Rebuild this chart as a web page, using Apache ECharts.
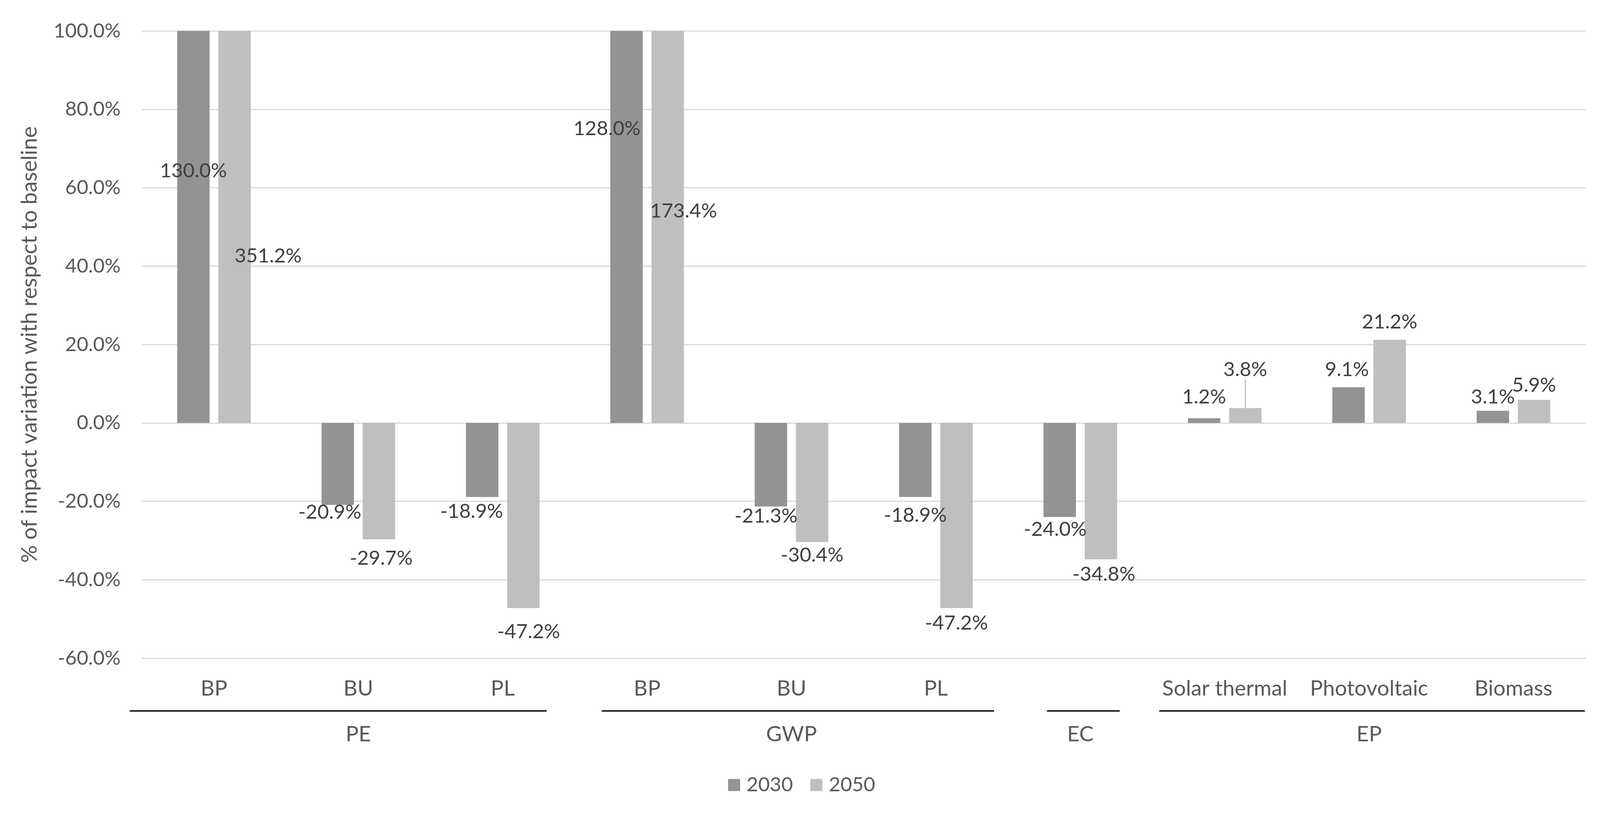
<!DOCTYPE html>
<html>
<head>
<meta charset="utf-8">
<script src="https://cdn.jsdelivr.net/npm/echarts@6/dist/echarts.min.js"></script>
<style>
html,body{margin:0;padding:0;background:#fff;overflow:hidden;}
#chart{width:100vw;height:100vh;}
</style>
</head>
<body>
<div id="chart"></div>
<script>
// ---- data ----
const categories = ['BP', 'BU', 'PL', 'BP', 'BU', 'PL', '', 'Solar thermal', 'Photovoltaic', 'Biomass'];
const groupLabels = ['', 'PE', '', '', 'GWP', '', 'EC', '', 'EP', ''];
const seriesNames = ['2030', '2050'];
const values2030 = [130.0, -20.9, -18.9, 128.0, -21.3, -18.9, -24.0, 1.2, 9.1, 3.1];
const values2050 = [351.2, -29.7, -47.2, 173.4, -30.4, -47.2, -34.8, 3.8, 21.2, 5.9];
const yMin = -60, yMax = 100, yInterval = 20;

// ---- layout (label placement: [dx from bar centre, distance from bar end / from grid top if clipped]) ----
const labelPlace = [
  [[0, 371], [-21, 20], [-28, 38], [-52, 259], [-13, 26], [0, 49], [-12, 33], [0, 56], [-4, 47], [0, 37]],
  [[89, 597], [6, 50], [14, 63], [42, 478], [0, 35], [0, 40], [8, 40], [0, 102], [0, 47], [0, 39]]
];
const leaderLine = [[], [7]];
const groupSpans = [[-0.084, 2.804], [3.185, 5.903], [6.269, 6.773], [7.047, 9.995]];

const el = document.getElementById('chart');
const W = el.clientWidth || window.innerWidth;
const H = el.clientHeight || window.innerHeight;
const s = Math.min(W / 4244, H / 2120);
const P = v => v * s;

const FONT = 'Lato';
const FS_NUM = P(53);
const FS_TXT = P(57);
const colors = ['#939393', '#bfbfbf'];

const chart = echarts.init(el);
const allValues = [values2030, values2050];

function makeSeries(si) {
  return {
    name: seriesNames[si],
    type: 'bar',
    xAxisIndex: 0,
    yAxisIndex: 0,
    barWidth: P(86),
    barGap: '27%',
    itemStyle: { color: colors[si] },
    data: allValues[si].map((v, i) => leaderLine[si].indexOf(i) >= 0
      ? { value: v, labelLine: { show: true, lineStyle: { color: '#a6a6a6', width: P(2) } } }
      : v),
    label: {
      show: true,
      position: 'inside',
      fontFamily: FONT,
      fontSize: FS_NUM,
      color: '#404040',
      formatter: p => p.value.toFixed(1) + '%'
    },
    labelLine: { show: false },
    labelLayout: function (params) {
      const idx = params.dataIndex;
      const v = allValues[si][idx];
      const pl = labelPlace[si][idx];
      const r = params.rect;
      const cx = r.x + r.width / 2 + P(pl[0]);
      let cy;
      if (v > yMax) cy = r.y + P(pl[1]);
      else if (v >= 0) cy = r.y - P(pl[1]);
      else cy = r.y + r.height + P(pl[1]);
      return { x: cx, y: cy, align: 'center', verticalAlign: 'middle' };
    },
    animation: false
  };
}

const option = {
  animation: false,
  backgroundColor: '#ffffff',
  textStyle: { fontFamily: FONT },
  grid: { left: P(376), right: W - P(4206), top: P(82), bottom: H - P(1746), containLabel: false, outerBoundsMode: 'none' },
  legend: {
    data: seriesNames,
    left: P(2122) - P(196),
    top: P(2077) - P(26),
    icon: 'rect',
    itemWidth: P(32),
    itemHeight: P(32),
    itemGap: P(46),
    textStyle: { fontFamily: FONT, fontSize: FS_NUM, color: '#595959', padding: [0, 0, 0, P(12)] }
  },
  xAxis: [
    {
      type: 'category',
      data: categories,
      position: 'bottom',
      axisLine: { show: false },
      axisTick: { show: false },
      splitLine: { show: false },
      axisLabel: { interval: 0, margin: P(52), fontFamily: FONT, fontSize: FS_TXT, color: '#595959' }
    },
    {
      type: 'category',
      data: groupLabels,
      position: 'bottom',
      gridIndex: 0,
      axisLine: { show: false },
      axisTick: { show: false },
      splitLine: { show: false },
      axisLabel: { interval: 0, margin: P(174), fontFamily: FONT, fontSize: FS_TXT, color: '#595959' }
    }
  ],
  yAxis: {
    type: 'value',
    min: yMin,
    max: yMax,
    interval: yInterval,
    name: '% of impact variation with respect to baseline',
    nameLocation: 'middle',
    nameGap: P(268),
    nameTextStyle: { fontFamily: FONT, fontSize: P(58), color: '#595959' },
    axisLine: { show: false },
    axisTick: { show: false },
    axisLabel: {
      margin: P(56), fontFamily: FONT, fontSize: FS_NUM, color: '#595959',
      formatter: v => v.toFixed(1) + '%'
    },
    splitLine: { show: true, lineStyle: { color: '#d9d9d9', width: P(3) } }
  },
  series: [makeSeries(0), makeSeries(1)]
};

chart.setOption(option);

function drawGroupLines() {
  const c0 = chart.convertToPixel({ xAxisIndex: 0 }, 0);
  const c1 = chart.convertToPixel({ xAxisIndex: 0 }, 1);
  const w = c1 - c0;
  const left = c0 - w / 2;
  const yb = chart.convertToPixel({ yAxisIndex: 0 }, yMin);
  const y = yb + P(140);
  chart.setOption({
    graphic: groupSpans.map(sp => ({
      type: 'line',
      silent: true,
      shape: { x1: left + sp[0] * w, y1: y, x2: left + sp[1] * w, y2: y },
      style: { stroke: '#1a1a1a', lineWidth: P(4) }
    }))
  });
}
drawGroupLines();
</script>
</body>
</html>
